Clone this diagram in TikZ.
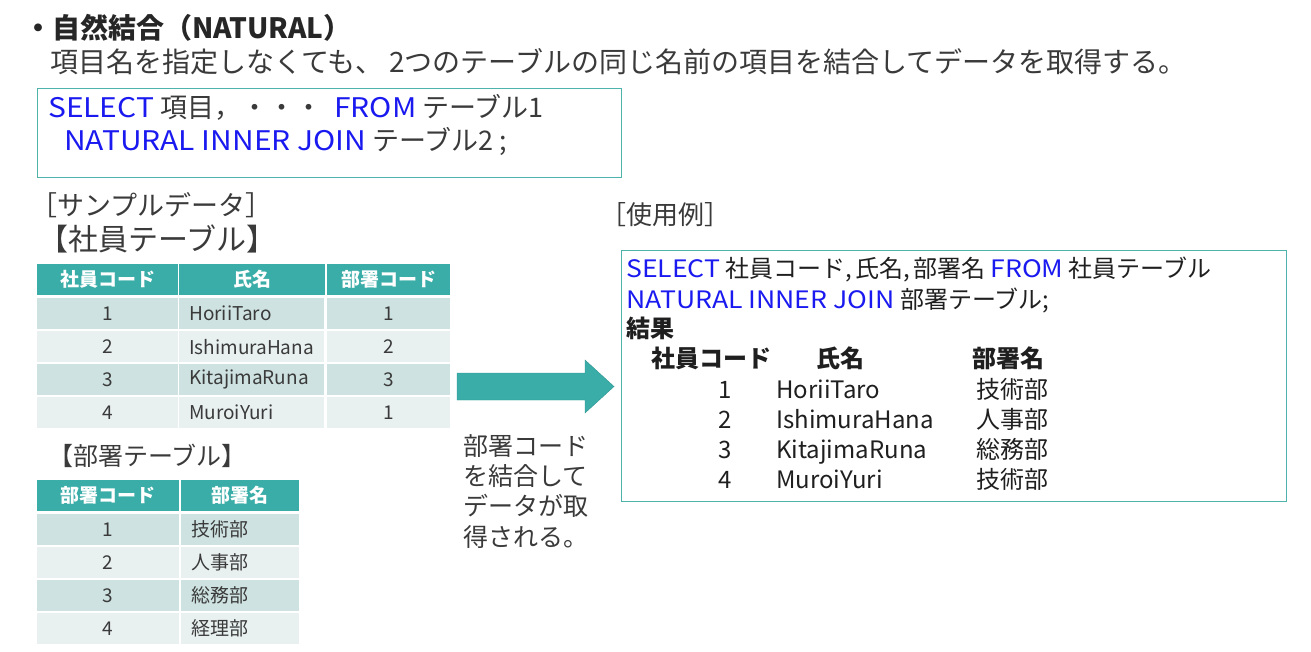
\documentclass[tikz,border=0pt]{standalone}
\usepackage{graphicx}
\usepackage{fontspec}
\setmainfont{Noto Sans CJK JP}
\definecolor{tablehead}{HTML}{3AADA8}
\definecolor{arrowedge}{HTML}{2F9590}
\definecolor{rowdark}{HTML}{CEE3E1}
\definecolor{rowlight}{HTML}{E8F1F0}
\definecolor{sqlblue}{HTML}{1A1AF0}
\definecolor{inktext}{HTML}{3A3A3A}
\definecolor{framecol}{HTML}{4DB3AB}
\newcommand\cellfont{\fontsize{19pt}{22pt}\selectfont}
\newcommand\headfont{\fontsize{19pt}{22pt}\selectfont\bfseries}
\newcommand\kw[1]{{\color{sqlblue}\scalebox{1.11}[1]{#1}}}
\tikzset{cell/.style = {anchor=north west, inner sep=0pt, minimum height=31pt, font=\cellfont, text=inktext},
         headcell/.style = {cell, fill=tablehead, text=white, font=\headfont},
         namecell/.style = {cell, text width=125pt, inner xsep=10pt, align=left},
         txt/.style = {anchor=base west, inner sep=0pt, text=inktext},
         sqlframe/.style = {draw=framecol, line width=1pt, anchor=north west, inner sep=0pt}}

\begin{document}
\begin{tikzpicture}[x=1pt, y=-1pt]
\useasboundingbox (0,0) rectangle (1311,651);
% heading
\node[txt, font=\fontsize{28pt}{32pt}\selectfont\bfseries, text=black!85] (title) at (24,38) {・自然結合（NATURAL）};
\node[txt, font=\fontsize{28pt}{32pt}\selectfont] (lead) at (50,72) {項目名を指定しなくても、 2つのテーブルの同じ名前の項目を結合してデータを取得する。};
% syntax box
\node[sqlframe, minimum width=584pt, minimum height=89pt] (syntax) at (37,88) {};
\node[txt, font=\fontsize{27pt}{30pt}\selectfont] (syn-1) at (48,117) {\kw{SELECT} 項目，・・・\hspace{6pt} \kw{FROM} テーブル1};
\node[txt, font=\fontsize{27pt}{30pt}\selectfont] (syn-2) at (64,150) {\kw{NATURAL INNER JOIN} テーブル2 ;};
% sample data
\node[txt, font=\fontsize{27pt}{30pt}\selectfont] (sample) at (30,215) {［サンプルデータ］};
\node[txt, font=\fontsize{30pt}{30pt}\selectfont] (emp-title) at (38,250) {【社員テーブル】};
\node[headcell, minimum width=141pt] (emp-h-1) at (37,264) {社員コード};
\node[headcell, minimum width=146pt] (emp-h-2) at (179,264) {氏名};
\node[headcell, minimum width=123pt] (emp-h-3) at (327,264) {部署コード};
\foreach \i/\fc/\who/\dept in {1/rowdark/HoriiTaro/1, 2/rowlight/IshimuraHana/2,
                               3/rowdark/KitajimaRuna/3, 4/rowlight/MuroiYuri/1} {
  \node[cell, fill=\fc, minimum width=141pt] (emp-\i-1) at (37,265+33*\i) {\i};
  \node[namecell, fill=\fc] (emp-\i-2) at (179,265+33*\i) {\who};
  \node[cell, fill=\fc, minimum width=123pt] (emp-\i-3) at (327,265+33*\i) {\dept};
}
\node[txt, font=\fontsize{25pt}{26pt}\selectfont] (dept-title) at (48,465) {【部署テーブル】};
\node[headcell, minimum width=142pt] (dept-h-1) at (37,480) {部署コード};
\node[headcell, minimum width=118pt] (dept-h-2) at (181,480) {部署名};
\foreach \i/\fc/\dept in {1/rowdark/技術部, 2/rowlight/人事部, 3/rowdark/総務部, 4/rowlight/経理部} {
  \node[cell, fill=\fc, minimum width=142pt] (dept-\i-1) at (37,481+33*\i) {\i};
  \node[cell, fill=\fc, text width=98pt, inner xsep=10pt, align=left] (dept-\i-2) at (181,481+33*\i) {\dept};
}
% arrow and note
\filldraw[fill=tablehead, draw=arrowedge] (457,373) -- (585,373) -- (585,360) -- (614,386.5)
  -- (585,413) -- (585,400) -- (457,400) -- cycle;
\node[txt, anchor=north west, align=left, font=\fontsize{25pt}{30.3pt}\selectfont] (note) at (463,434)
  {部署コード\\を結合して\\データが取\\得される。};
% example
\node[txt, font=\fontsize{26pt}{28pt}\selectfont] (example) at (600,224) {［使用例］};
\node[sqlframe, minimum width=665pt, minimum height=251pt] (usage) at (621,250) {};
\begin{scope}[every node/.style={txt, font=\fontsize{24pt}{28pt}\selectfont, text=black!88}]
\node (use-1) at (626,277) {\kw{SELECT} 社員コード,\hspace{3pt}氏名,\hspace{3pt}部署名 \kw{FROM} 社員テーブル};
\node (use-2) at (626,308) {\kw{NATURAL INNER JOIN} 部署テーブル;};
\node[font=\fontsize{24pt}{28pt}\selectfont\bfseries] (res) at (626,337) {結果};
\node[font=\fontsize{24pt}{28pt}\selectfont\bfseries] (res-h-1) at (651,367) {社員コード};
\node[font=\fontsize{24pt}{28pt}\selectfont\bfseries] (res-h-2) at (816,367) {氏名};
\node[font=\fontsize{24pt}{28pt}\selectfont\bfseries] (res-h-3) at (972,367) {部署名};
\foreach \i/\who/\dept in {1/HoriiTaro/技術部, 2/IshimuraHana/人事部, 3/KitajimaRuna/総務部, 4/MuroiYuri/技術部} {
  \node[anchor=base] (res-\i-1) at (725,368+30*\i) {\i};
  \node (res-\i-2) at (776,368+30*\i) {\who};
  \node (res-\i-3) at (976,368+30*\i) {\dept};
}
\end{scope}
\end{tikzpicture}
\end{document}
